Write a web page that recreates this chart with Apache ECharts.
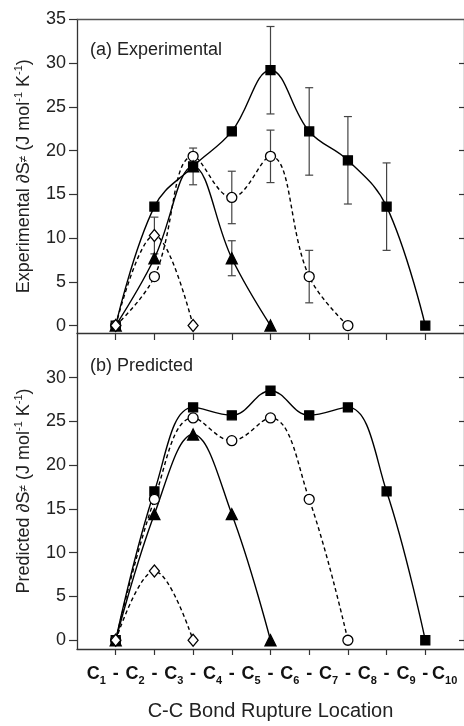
<!DOCTYPE html>
<html><head><meta charset="utf-8">
<script src="https://cdn.jsdelivr.net/npm/echarts@6/dist/echarts.min.js"></script>
<style>html,body{margin:0;padding:0;background:#fff}#c{width:464px;height:726px}</style>
</head><body><div id="c"></div>
<script>
// carbon atoms of the chain and bond positions (bond i joins C(i+1)-C(i+2))
const carbons = ['1','2','3','4','5','6','7','8','9','10'];
const bonds = [0,1,2,3,4,5,6,7,8];
const yTicks = [0,5,10,15,20,25,30];
const yTicksTop = [0,5,10,15,20,25,30,35];

// (a) Experimental
const expDecane    = [0,13.6,18.2,22.2,29.2,22.2,18.9,13.6,0];
const expDecaneErr = [0,0,0,0,5,5,5,5,0];
const expOctane    = [0,5.6,19.35,14.65,19.35,5.6,0];
const expOctaneErr = [0,0,0,3,3,3,0];
const expHexane    = [0,7.7,18.2,7.7,0];
const expHexaneErr = [0,0,2.1,2.0,0];
const expButane    = [0,10.3,0];
const expButaneErr = [0,2.1,0];

// (b) Predicted
const preDecane = [0,17.0,26.6,25.7,28.5,25.7,26.6,17.0,0];
const preOctane = [0,16.1,25.4,22.8,25.4,16.1,0];
const preHexane = [0,14.4,23.5,14.4,0];
const preButane = [0,7.9,0];

const FONT = '"Liberation Sans", Arial, sans-serif';
const AX = '#333';

function pts(arr){ return arr.map((v,i)=>[bonds[i], v]); }
function errPts(vals, errs){
  const out = [];
  vals.forEach((v,i)=>{ if (errs[i] > 0) out.push([bonds[i], v, errs[i]]); });
  return out;
}

const labelPositions = [];
carbons.forEach((c,i)=>{ labelPositions.push(i - 0.5); if (i < bonds.length) labelPositions.push(bonds[i]); });
function xLabel(v){
  if (Math.abs(v - Math.round(v)) < 1e-6) return '{d|-}';
  const idx = Math.round(v + 0.5);
  return '{c|C}{s|' + carbons[idx] + '}';
}

const markerDefs = [
  {key:'decane', symbol:'rect', size:9, fill:'#000', dash:'solid'},
  {key:'octane', symbol:'circle', size:10, fill:'#fff', dash:[4,3]},
  {key:'hexane', symbol:'triangle', size:11, fill:'#000', dash:'solid'},
  {key:'butane', symbol:'diamond', size:[10,12], fill:'#fff', dash:[4,3]}
];
const names = {decane:'n-Decane', octane:'n-Octane', hexane:'n-Hexane', butane:'n-Butane'};

function lineSeries(def, data, xi, yi){
  return {
    type:'line', name: names[def.key], xAxisIndex: xi, yAxisIndex: yi,
    data: pts(data), smooth: 0.4,
    symbol: def.symbol, symbolSize: def.size, showAllSymbol: true,
    itemStyle: {color: def.fill, borderColor:'#000', borderWidth: 1.3},
    lineStyle: {color:'#000', width:1.4, type: def.dash},
    emphasis: {disabled:true}, z: 3
  };
}

function errSeries(data, xi, yi){
  return {
    type:'custom', xAxisIndex: xi, yAxisIndex: yi, data: data, z: 2,
    renderItem: function(params, api){
      const x = api.value(0), v = api.value(1), e = api.value(2);
      const top = api.coord([x, v + e]);
      const bot = api.coord([x, v - e]);
      const w = 4;
      const st = {stroke:'#444', lineWidth:1.2};
      return {type:'group', children:[
        {type:'line', shape:{x1:top[0], y1:top[1], x2:bot[0], y2:bot[1]}, style:st},
        {type:'line', shape:{x1:top[0]-w, y1:top[1], x2:top[0]+w, y2:top[1]}, style:st},
        {type:'line', shape:{x1:bot[0]-w, y1:bot[1], x2:bot[0]+w, y2:bot[1]}, style:st}
      ]};
    }
  };
}

const yNameRich = {
  s: {fontSize: 12, lineHeight: 22, fontFamily: FONT, color:'#222'},
  p: {fontSize: 11, lineHeight: 13, verticalAlign:'top', fontFamily: FONT, color:'#222'}
};

function yLeft(gi, min, max, ticks, name){
  return {
    type:'value', gridIndex: gi, position:'left', min: min, max: max,
    name: name, nameLocation:'middle', nameGap: 42,
    nameTextStyle: {fontSize:18, fontFamily: FONT, color:'#222', lineHeight:22, rich: yNameRich},
    axisLine: {show:true, onZero:false, lineStyle:{color:AX, width:1.3}},
    axisTick: {show:true, inside:false, length:8, customValues: ticks, lineStyle:{color:AX, width:1.2}},
    axisLabel: {show:true, customValues: ticks, margin: 11, fontSize:18, fontFamily: FONT, color:'#222'},
    splitLine: {show:false}
  };
}
function yRight(gi, min, max){
  return {
    type:'value', gridIndex: gi, position:'right', min: min, max: max,
    axisLine: {show:true, onZero:false, lineStyle:{color:AX, width:1.3}},
    axisTick: {show:true, inside:true, length:5, customValues: yTicks, lineStyle:{color:AX, width:1.2}},
    axisLabel: {show:false}, splitLine: {show:false}
  };
}

const option = {
  animation: false,
  backgroundColor: '#fff',
  grid: [
    {left:77, right:0, top:19.5, height:313.5},
    {left:77, right:0, top:333, height:316}
  ],
  xAxis: [
    {type:'value', gridIndex:0, position:'bottom', min:-1, max:9,
     axisLine:{show:true, onZero:false, lineStyle:{color:AX, width:1.3}},
     axisTick:{show:true, length:7, customValues: bonds, lineStyle:{color:AX, width:1.2}},
     axisLabel:{show:false}, splitLine:{show:false}},
    {type:'value', gridIndex:0, position:'top', min:-1, max:9,
     axisLine:{show:true, onZero:false, lineStyle:{color:'#555', width:1.3}},
     axisTick:{show:false}, axisLabel:{show:false}, splitLine:{show:false}},
    {type:'value', gridIndex:1, position:'bottom', min:-1, max:9,
     name:'C-C Bond Rupture Location', nameLocation:'middle', nameGap: 52,
     nameTextStyle:{fontSize:20, fontFamily: FONT, color:'#222'},
     axisLine:{show:true, onZero:false, lineStyle:{color:AX, width:1.3}},
     axisTick:{show:true, length:6, customValues: bonds, lineStyle:{color:AX, width:1.2}},
     axisLabel:{show:true, customValues: labelPositions, margin: 13, formatter: xLabel,
       rich:{
         c:{fontSize:18, fontWeight:'bold', lineHeight:24, fontFamily: FONT, color:'#111'},
         d:{fontSize:18, fontWeight:'bold', lineHeight:24, fontFamily: FONT, color:'#111'},
         s:{fontSize:11, fontWeight:'bold', lineHeight:12, verticalAlign:'bottom', fontFamily: FONT, color:'#111'}
       }},
     splitLine:{show:false}}
  ],
  yAxis: [
    yLeft(0, -0.85, 35, yTicksTop, 'Experimental ∂S{s|≠} (J mol{p|-1} K{p|-1})'),
    yRight(0, -0.85, 35),
    yLeft(1, -1, 35.1, yTicks, 'Predicted ∂S{s|≠} (J mol{p|-1} K{p|-1})'),
    yRight(1, -1, 35.1)
  ],
  graphic: [
    {type:'text', left:90, top:41, style:{text:'(a) Experimental', fontSize:18, fontFamily: FONT, fill:'#222'}},
    {type:'text', left:90, top:357, style:{text:'(b) Predicted', fontSize:18, fontFamily: FONT, fill:'#222'}}
  ],
  series: [
    errSeries([].concat(
      errPts(expDecane, expDecaneErr), errPts(expOctane, expOctaneErr),
      errPts(expHexane, expHexaneErr), errPts(expButane, expButaneErr)), 0, 0),
    lineSeries(markerDefs[0], expDecane, 0, 0),
    lineSeries(markerDefs[1], expOctane, 0, 0),
    lineSeries(markerDefs[2], expHexane, 0, 0),
    lineSeries(markerDefs[3], expButane, 0, 0),
    lineSeries(markerDefs[0], preDecane, 2, 2),
    lineSeries(markerDefs[1], preOctane, 2, 2),
    lineSeries(markerDefs[2], preHexane, 2, 2),
    lineSeries(markerDefs[3], preButane, 2, 2)
  ]
};

const chart = echarts.init(document.getElementById('c'), null, {renderer:'canvas'});
chart.setOption(option);
</script>
</body></html>
